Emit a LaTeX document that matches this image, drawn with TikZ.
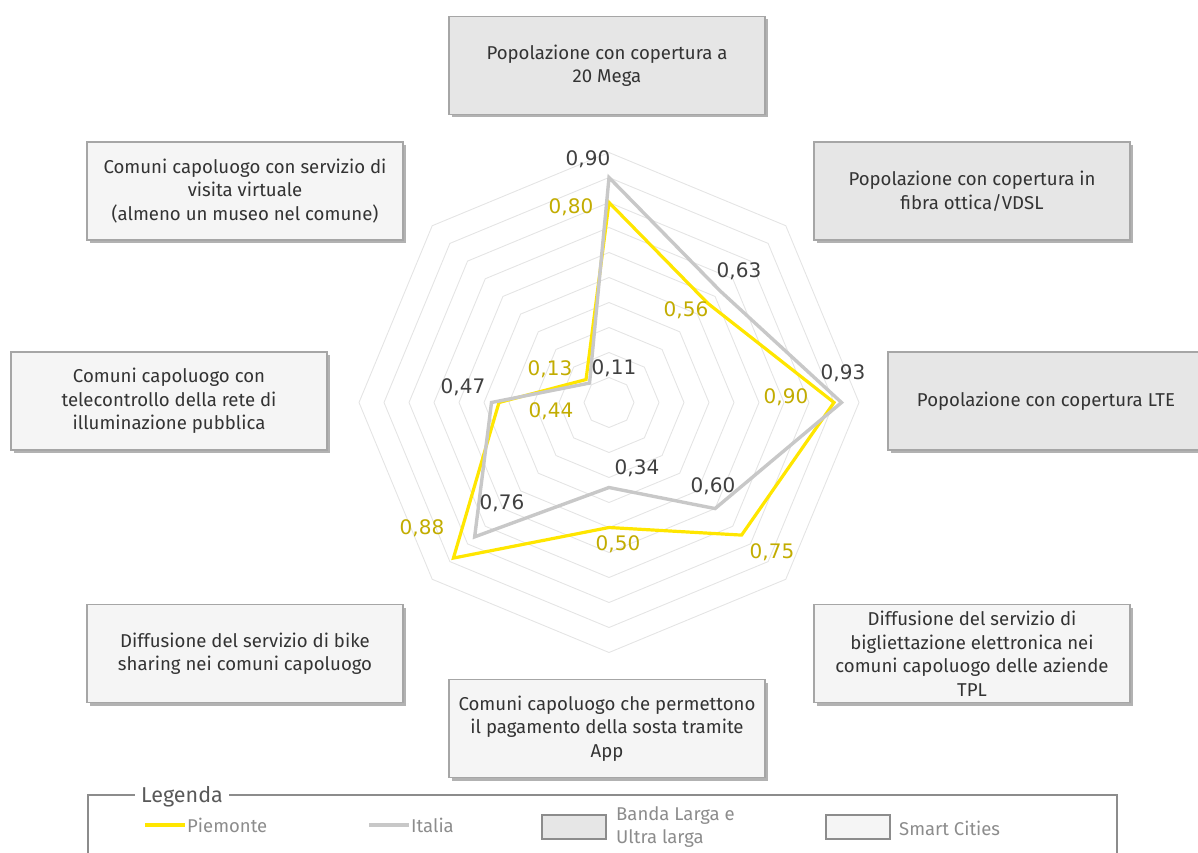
\documentclass[tikz,border=0pt]{standalone}
\usepackage{fontspec}
\setmainfont{Fira Sans}
\newfontfamily\valfont{DejaVu Sans}
\usetikzlibrary{shadows}

\definecolor{txt}{HTML}{333333}
\definecolor{boxedge}{HTML}{A6A6A6}
\definecolor{bbfill}{HTML}{E6E6E6}
\definecolor{scfill}{HTML}{F5F5F5}
\definecolor{gridc}{HTML}{E4E4E4}
\definecolor{piem}{HTML}{FFE600}
\definecolor{ital}{HTML}{C8C8C8}
\definecolor{piemtxt}{HTML}{C2AC00}
\definecolor{italtxt}{HTML}{404040}
\definecolor{legc}{HTML}{8C8C8C}
\definecolor{legtitlec}{HTML}{595959}

\tikzset{
  catbox/.style={draw=boxedge, line width=1.2pt, minimum width=316pt, minimum height=98pt,
    align=center, text=txt, font=\fontsize{18.6}{23.5}\selectfont, inner sep=0pt,
    drop shadow={shadow xshift=3pt, shadow yshift=-3pt, fill=black!55, opacity=0.55}},
  bbbox/.style={catbox, fill=bbfill},
  scbox/.style={catbox, fill=scfill},
  gridline/.style={draw=gridc, line width=0.9pt},
  piemline/.style={draw=piem, line width=3.2pt, line join=miter},
  italline/.style={draw=ital, line width=3.4pt, line join=miter},
  piemval/.style={text=piemtxt, font=\valfont\fontsize{20}{22}\selectfont, inner sep=0pt},
  italval/.style={text=italtxt, font=\valfont\fontsize{20}{22}\selectfont, inner sep=0pt},
  legtext/.style={text=legc, font=\fontsize{18.5}{23}\selectfont, inner sep=0pt, anchor=west, align=left},
  legframe/.style={draw=legc, line width=1.4pt},
  legswatch/.style={draw=legc, line width=1.4pt, minimum width=64pt, minimum height=24pt, inner sep=0pt},
}

\begin{document}
\begin{tikzpicture}[x=1pt, y=-1pt]
\useasboundingbox (0,0) rectangle (1198,853);
\clip (0,0) rectangle (1198,853);

% radar grid and series, centred on the chart origin
\begin{scope}[shift={(609,402.5)}]
  \foreach \i in {1,...,10}{
    \draw[gridline] (-90:25*\i) \foreach \k in {1,...,7}{ -- (-90+45*\k:25*\i) } -- cycle;
  }
  % Piemonte
  \coordinate (p1) at (-90:200);
  \coordinate (p2) at (-45:140);
  \coordinate (p3) at (0:225);
  \coordinate (p4) at (45:187.5);
  \coordinate (p5) at (90:125);
  \coordinate (p6) at (135:220);
  \coordinate (p7) at (180:110);
  \coordinate (p8) at (225:32.5);
  % Italia
  \coordinate (i1) at (-90:225);
  \coordinate (i2) at (-45:157.5);
  \coordinate (i3) at (0:232.5);
  \coordinate (i4) at (45:150);
  \coordinate (i5) at (90:85);
  \coordinate (i6) at (135:190);
  \coordinate (i7) at (180:117.5);
  \coordinate (i8) at (225:27.5);
  \draw[piemline] (p1) -- (p2) -- (p3) -- (p4) -- (p5) -- (p6) -- (p7) -- (p8) -- cycle;
  \draw[italline] (i1) -- (i2) -- (i3) -- (i4) -- (i5) -- (i6) -- (i7) -- (i8) -- cycle;
\end{scope}

% data labels
\node[italval] (li1) at (588,159) {0,90};
\node[piemval] (lp1) at (571,207) {0,80};
\node[italval] (li2) at (739,271) {0,63};
\node[piemval] (lp2) at (686,310) {0,56};
\node[italval] (li3) at (843,373) {0,93};
\node[piemval] (lp3) at (786,397) {0,90};
\node[italval] (li4) at (713,486) {0,60};
\node[piemval] (lp4) at (772,552) {0,75};
\node[italval] (li5) at (637,468) {0,34};
\node[piemval] (lp5) at (618,544) {0,50};
\node[italval] (li6) at (502,503) {0,76};
\node[piemval] (lp6) at (422,528) {0,88};
\node[italval] (li7) at (463,387) {0,47};
\node[piemval] (lp7) at (551,411) {0,44};
\node[piemval] (lp8) at (550,369) {0,13};
\node[italval] (li8) at (614,368) {0,11};

% category boxes
\node[bbbox] (c1) at (607,65.5) {Popolazione con copertura a\\20 Mega};
\node[bbbox] (c2) at (972,191) {Popolazione con copertura in\\fibra ottica/VDSL};
\node[bbbox] (c3) at (1046,401) {Popolazione con copertura LTE};
\node[scbox] (c4) at (972,653.5) {Diffusione del servizio di\\bigliettazione elettronica nei\\comuni capoluogo delle aziende\\TPL};
\node[scbox] (c5) at (607,728.5) {Comuni capoluogo che permettono\\il pagamento della sosta tramite\\App};
\node[scbox] (c6) at (245,653.5) {Diffusione del servizio di bike\\sharing nei comuni capoluogo};
\node[scbox] (c7) at (169,401) {Comuni capoluogo con\\telecontrollo della rete di\\illuminazione pubblica};
\node[scbox] (c8) at (245,191) {Comuni capoluogo con servizio di\\visita virtuale\\(almeno un museo nel comune)};

% legend
\node[text=legtitlec, font=\fontsize{21.5}{23}\selectfont, inner sep=6pt] (lt) at (182,797) {Legenda};
\coordinate (fl) at (88,853);
\coordinate (flt) at (88,795);
\coordinate (fr) at (1117,853);
\coordinate (frt) at (1117,795);
\draw[legframe] (fl) -- (flt) -- (lt.west |- flt);
\draw[legframe] (lt.east |- frt) -- (frt) -- (fr);

\coordinate (ly1) at (145,825);
\coordinate (ly2) at (185,825);
\draw[draw=piem, line width=3.2pt] (ly1) -- (ly2);
\node[legtext] (lpiem) at (187,825) {Piemonte};
\coordinate (lg1) at (369,825);
\coordinate (lg2) at (409,825);
\draw[draw=ital, line width=3.2pt] (lg1) -- (lg2);
\node[legtext] (lital) at (411,825) {Italia};
\node[legswatch, fill=bbfill] (sbb) at (574,827) {};
\node[legtext] (lbb) at (616,827) {Banda Larga e\\Ultra larga};
\node[legswatch, fill=scfill] (ssc) at (858,827) {};
\node[legtext] (lsc) at (899,828) {Smart Cities};
\end{tikzpicture}
\end{document}
